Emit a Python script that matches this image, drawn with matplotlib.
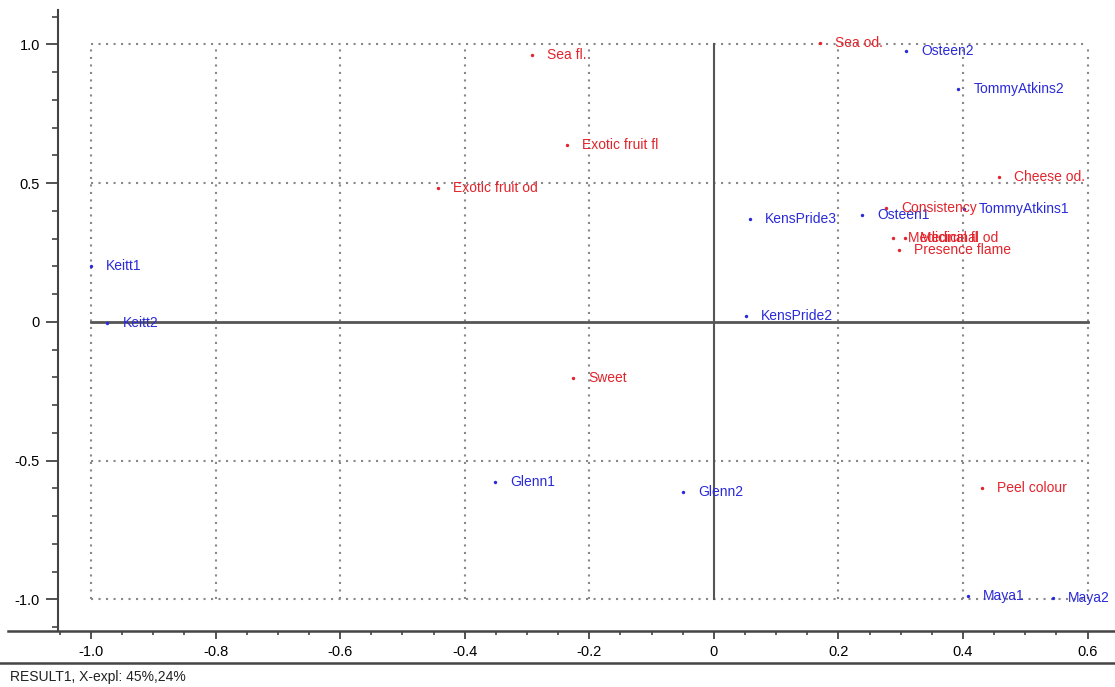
import matplotlib
matplotlib.use("Agg")
import matplotlib.pyplot as plt
from matplotlib.lines import Line2D
from matplotlib.ticker import MultipleLocator, FuncFormatter

plt.rcParams['font.family'] = ['Liberation Sans', 'DejaVu Sans']

# samples (blue)
sample_names = ["Osteen2", "TommyAtkins2", "TommyAtkins1", "Osteen1", "KensPride3",
                "KensPride2", "Keitt1", "Keitt2", "Glenn1", "Glenn2", "Maya1", "Maya2"]
sample_x = [0.308, 0.392, 0.401, 0.238, 0.058, 0.051, -1.0, -0.974, -0.352, -0.050, 0.408, 0.544]
sample_y = [0.977, 0.840, 0.407, 0.386, 0.371, 0.022, 0.20, -0.004, -0.577, -0.613, -0.987, -0.995]

# attributes (red)
attr_names = ["Sea od.", "Sea fl.", "Exotic fruit fl", "Exotic fruit od", "Cheese od.",
              "Consistency", "Medicinal fl", "Medicinal od", "Presence flame", "Sweet", "Peel colour"]
attr_x = [0.170, -0.292, -0.236, -0.443, 0.457, 0.276, 0.287, 0.307, 0.297, -0.226, 0.430]
attr_y = [1.005, 0.962, 0.638, 0.483, 0.523, 0.411, 0.303, 0.303, 0.259, -0.202, -0.598]

x_grid = [-1.0, -0.8, -0.6, -0.4, -0.2, 0.0, 0.2, 0.4, 0.6]
y_grid = [-1.0, -0.5, 0.5, 1.0]

blue = "#2a2ad8"
red = "#e2242c"

fig = plt.figure(figsize=(11.15, 6.87), dpi=100)
ax = fig.add_axes([58 / 1115, 56 / 687, 1 - 58 / 1115, (631 - 10) / 687])
ax.set_xlim(-1.053, 0.644)
ax.set_ylim(-1.114, 1.124)

# dotted grid box
dot = dict(color="#888888", linewidth=1.5, linestyle=(0, (1, 2.6)), zorder=1)
for gx in x_grid:
    if gx != 0.0:
        ax.plot([gx, gx], [-1.0, 1.0], **dot)
for gy in y_grid:
    ax.plot([-1.0, 0.6], [gy, gy], **dot)

# zero lines
ax.plot([-1.0, 0.6], [0, 0], color="#555555", linewidth=2, zorder=2)
ax.plot([0, 0], [-1.0, 1.0], color="#555555", linewidth=1.5, zorder=2)

ax.scatter(sample_x, sample_y, s=6, color=blue, zorder=3, linewidths=0)
ax.scatter(attr_x, attr_y, s=6, color=red, zorder=3, linewidths=0)
for n, x, y in zip(sample_names, sample_x, sample_y):
    ax.annotate(n, (x, y), xytext=(11, 0), textcoords="offset points",
                va="center", ha="left", color=blue, fontsize=10, zorder=4)
for n, x, y in zip(attr_names, attr_x, attr_y):
    ax.annotate(n, (x, y), xytext=(11, 0), textcoords="offset points",
                va="center", ha="left", color=red, fontsize=10, zorder=4)

for s in ["top", "right"]:
    ax.spines[s].set_visible(False)
ax.spines["bottom"].set_visible(False)
ax.spines["left"].set_color("#444444")
ax.spines["left"].set_linewidth(1.5)

fmt = FuncFormatter(lambda v, p: "0" if abs(v) < 1e-9 else f"{v:.1f}")
ax.xaxis.set_major_locator(MultipleLocator(0.2))
ax.xaxis.set_minor_locator(MultipleLocator(0.05))
ax.yaxis.set_major_locator(MultipleLocator(0.5))
ax.yaxis.set_minor_locator(MultipleLocator(0.1))
ax.xaxis.set_major_formatter(fmt)
ax.yaxis.set_major_formatter(fmt)
ax.tick_params(axis="both", which="major", direction="out", length=9, width=1.3,
               color="#444444", labelsize=10.5, pad=4)
ax.tick_params(axis="both", which="minor", direction="out", length=4, width=1.2, color="#444444")
ax.tick_params(axis="x", which="major", length=6, pad=4)
ax.tick_params(axis="x", which="minor", length=3)

# bottom axis line and separator
fig.add_artist(Line2D([8 / 1115, 1], [56 / 687, 56 / 687], color="#444444", linewidth=1.8))
fig.add_artist(Line2D([0, 1], [24 / 687, 24 / 687], color="#444444", linewidth=1.8))
fig.text(10 / 1115, 10 / 687, "RESULT1, X-expl: 45%,24%", fontsize=10, va="center", ha="left",
         color="#222222")

plt.savefig("out.png", dpi=100)
